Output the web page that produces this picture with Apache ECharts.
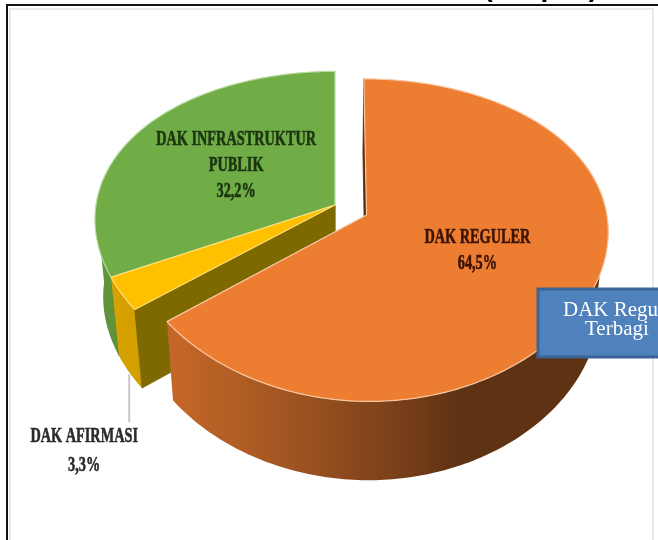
<!DOCTYPE html>
<html><head><meta charset="utf-8">
<script src="https://cdn.jsdelivr.net/npm/echarts@6/dist/echarts.min.js"></script>
<style>html,body{margin:0;padding:0;background:#fff}#c{width:658px;height:540px}</style>
</head><body><div id="c"></div><script>
// ---- data ----
const categories = ['DAK REGULER', 'DAK AFIRMASI', 'DAK INFRASTRUKTUR\nPUBLIK'];
const values = [64.5, 3.3, 32.2];
const titleText = 'DAK Fisik (3 Tipes)';
const boxLines = ['DAK Reguler', 'Terbagi'];

// ---- style ----
const explode = [0.146, 0, 0];
const topColors = ['#ED7D31', '#FFC000', '#70AD47'];
const radialColors = ['#5e2a0c', '#7d6900', '#4a7a2c'];
const rimColors = ['#f9c8a2', '#ffe07a', '#b9dca0'];
const labelColors = ['#3b1406', '#2b2b2b', '#1c3510'];

const P = {cx: 335, cy: 205, f: 1183, D: 4.95, phi: 40.2 * Math.PI / 180, T: 0.449, ax: 0.6};
const C = Math.cos(P.phi), S = Math.sin(P.phi);
function proj(u, v, h) {
  const d = P.D + v * C - h * S;
  const dx = P.D + P.ax * (v * C - h * S);
  return [P.cx + P.f * u / dx, P.cy - P.f * (v * S + h * C) / d];
}
const total = values.reduce((a, b) => a + b, 0);
const cum = []; { let acc = 0; values.forEach(v => { cum.push(acc); acc += v; }); }
function ang(i) { const a0 = cum[i] / total * 2 * Math.PI; return [a0, a0 + values[i] / total * 2 * Math.PI]; }
function off(i) { const [a0, a1] = ang(i); const m = (a0 + a1) / 2; return [explode[i] * Math.sin(m), explode[i] * Math.cos(m)]; }
function pt(i, r, t, h) { const o = off(i); return proj(o[0] + r * Math.sin(t), o[1] + r * Math.cos(t), h); }
function shade(hex, b) {
  const n = parseInt(hex.slice(1), 16);
  const r = Math.round(((n >> 16) & 255) * b), g = Math.round(((n >> 8) & 255) * b), bl = Math.round((n & 255) * b);
  return 'rgb(' + Math.min(255, r) + ',' + Math.min(255, g) + ',' + Math.min(255, bl) + ')';
}
function midV(i) { const [a0, a1] = ang(i); return Math.cos((a0 + a1) / 2); }
const order = values.map((v, i) => i).sort((a, b) => (explode[a] - explode[b]) || (midV(b) - midV(a)));
const LIGHT = 250 * Math.PI / 180;
function bright(t) { return 0.4 + 0.45 * Math.max(0, Math.cos(t - LIGHT)); }
function fmt(v) { return v.toFixed(1).replace('.', ',') + '%'; }

function renderItem(params, api) {
  const i = params.dataIndex;
  const val = api.value(0);
  const [a0, a1] = ang(i);
  const base = order.indexOf(i) * 10;
  const ch = [];
  const T = P.T;
  // outer wall (front facing part) as one polygon with horizontal shading gradient
  const w0 = Math.max(a0, Math.PI / 2), w1 = Math.min(a1, 1.5 * Math.PI);
  if (w1 > w0) {
    const n = Math.max(2, Math.ceil((w1 - w0) / (Math.PI / 180)));
    const topPts = [], botPts = [];
    for (let k = 0; k <= n; k++) {
      const t = w0 + (w1 - w0) * k / n;
      topPts.push(pt(i, 1, t, 0));
      botPts.push(pt(i, 1, t, -T));
    }
    const xs = topPts.map(p => p[0]);
    const xmin = Math.min.apply(null, xs), xmax = Math.max.apply(null, xs);
    const stops = [];
    for (let k = 0; k <= n; k += Math.max(1, Math.floor(n / 24))) {
      const t = w0 + (w1 - w0) * k / n;
      const off = xmax > xmin ? (topPts[k][0] - xmin) / (xmax - xmin) : 0;
      stops.push({offset: Math.min(1, Math.max(0, off)), color: shade(topColors[i], bright(t))});
    }
    stops.sort((a, b) => a.offset - b.offset);
    const grad = {type: 'linear', x: xmin, y: 0, x2: Math.max(xmax, xmin + 1), y2: 0, global: true, colorStops: stops};
    ch.push({type: 'polygon', z2: base + 1,
      shape: {points: topPts.concat(botPts.reverse())},
      style: {fill: grad}});
  }
  // radial walls
  const o = off(i);
  [[a0, a0 - Math.PI / 2], [a1, a1 + Math.PI / 2]].forEach(([t, nt]) => {
    const pu = o[0] + 0.5 * Math.sin(t), pv = o[1] + 0.5 * Math.cos(t);
    const cu = 0 - pu, cv = -P.D * C - pv;
    if (cu * Math.sin(nt) + cv * Math.cos(nt) > 0) {
      ch.push({type: 'polygon', z2: base + 2,
        shape: {points: [pt(i, 0, t, 0), pt(i, 1, t, 0), pt(i, 1, t, -T), pt(i, 0, t, -T)]},
        style: {fill: radialColors[i], stroke: radialColors[i], lineWidth: 0.8}});
    }
  });
  // top face
  const pts = [pt(i, 0, 0, 0)];
  const nn = Math.max(2, Math.ceil((a1 - a0) / (Math.PI / 180)));
  for (let k = 0; k <= nn; k++) pts.push(pt(i, 1, a0 + (a1 - a0) * k / nn, 0));
  ch.push({type: 'polygon', z2: base + 5, shape: {points: pts},
    style: {fill: topColors[i], stroke: rimColors[i], lineWidth: 1.2, lineJoin: 'round'}});
  // label
  const m = (a0 + a1) / 2;
  const txt = categories[i] + '\n' + fmt(val);
  const font = 'bold 21px "Liberation Serif", "DejaVu Serif", serif';
  const ts = {text: txt, fill: labelColors[i], font: font, align: 'center',
    stroke: labelColors[i], lineWidth: 0.6};
  if (val / total >= 0.05) {
    const p = pt(i, 0.5, m, 0);
    ch.push({type: 'text', z2: 200, x: p[0], y: p[1], scaleX: 0.68,
      style: Object.assign(ts, {verticalAlign: 'middle', lineHeight: 26})});
  } else {
    const p = pt(i, 1, m, -T);
    const yEnd = p[1] + 50;
    ch.push({type: 'line', z2: 190, shape: {x1: p[0], y1: p[1] + 2, x2: p[0], y2: yEnd},
      style: {stroke: '#c8c8c8', lineWidth: 2}});
    ch.push({type: 'text', z2: 200, x: p[0] - 45, y: yEnd, scaleX: 0.68,
      style: Object.assign(ts, {verticalAlign: 'top', lineHeight: 29})});
  }
  return {type: 'group', children: ch};
}

const chart = echarts.init(document.getElementById('c'), null, {renderer: 'canvas'});
chart.setOption({
  animation: false,
  backgroundColor: '#ffffff',
  graphic: [
    {type: 'text', z: 50, x: 598, y: 2,
      style: {text: titleText, font: 'bold 28px "Liberation Sans", Arial, sans-serif', fill: '#000', align: 'right', verticalAlign: 'bottom'}},
    {type: 'rect', z: 1, shape: {x: 10, y: 9, width: 643, height: 560},
      style: {fill: 'none', stroke: '#e9e9e9', lineWidth: 2}},
    {type: 'rect', z: 60, shape: {x: 7, y: 5, width: 700, height: 600},
      style: {fill: 'none', stroke: '#111111', lineWidth: 2}},
    {type: 'rect', z: 80, shape: {x: 538, y: 289, width: 200, height: 68},
      style: {fill: '#4F81BD', stroke: '#3A6494', lineWidth: 3}},
    {type: 'text', z: 81, x: 563, y: 310,
      style: {text: boxLines[0], font: '21px "Liberation Serif", "DejaVu Serif", serif', fill: '#ffffff', verticalAlign: 'middle'}},
    {type: 'text', z: 81, x: 585, y: 329,
      style: {text: boxLines[1], font: '21px "Liberation Serif", "DejaVu Serif", serif', fill: '#ffffff', verticalAlign: 'middle'}}
  ],
  series: [{
    type: 'custom',
    coordinateSystem: 'none',
    renderItem: renderItem,
    data: values.map((v, i) => ({name: categories[i], value: [v]})),
    z: 10
  }]
});
</script></body></html>
